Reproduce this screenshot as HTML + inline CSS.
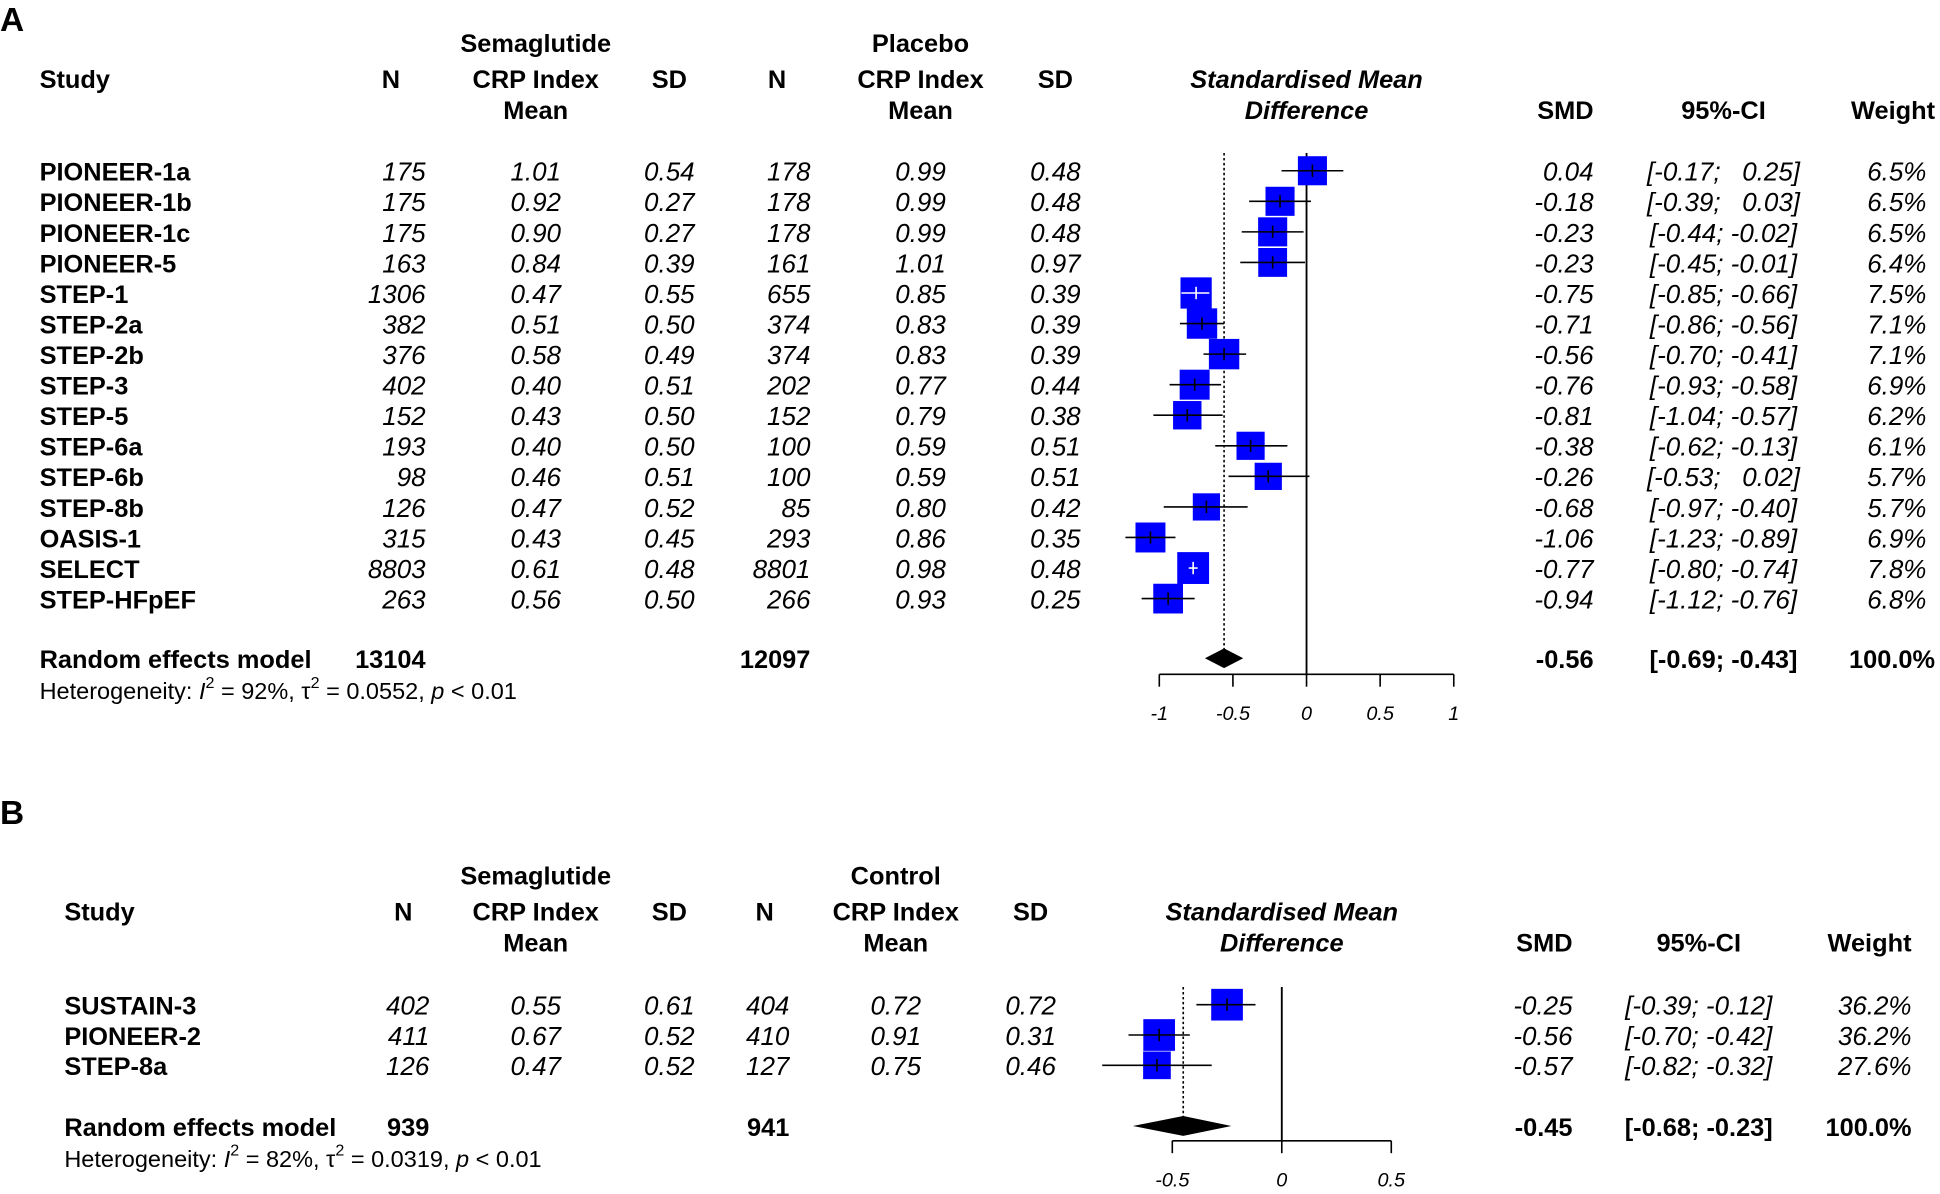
<!DOCTYPE html>
<html><head><meta charset="utf-8"><style>
html,body{margin:0;padding:0;background:#fff}
svg{display:block}
text{font-family:"Liberation Sans",Arial,sans-serif;fill:#000;white-space:pre}
.b{font-weight:bold;font-size:20.5px}
.i{font-style:italic;font-size:21px}
.h{font-size:19px}
</style></head><body>
<svg id="fig" width="1940" height="1194" viewBox="0 0 1568 965" preserveAspectRatio="none" xmlns="http://www.w3.org/2000/svg">
<g id="A"></g>
<g id="B"></g>
</svg>
<script>
// Panel A data
const studiesA = ["PIONEER-1a","PIONEER-1b","PIONEER-1c","PIONEER-5","STEP-1","STEP-2a","STEP-2b","STEP-3","STEP-5","STEP-6a","STEP-6b","STEP-8b","OASIS-1","SELECT","STEP-HFpEF"];
const nSemA = ["175","175","175","163","1306","382","376","402","152","193","98","126","315","8803","263"];
const meanSemA = ["1.01","0.92","0.90","0.84","0.47","0.51","0.58","0.40","0.43","0.40","0.46","0.47","0.43","0.61","0.56"];
const sdSemA = ["0.54","0.27","0.27","0.39","0.55","0.50","0.49","0.51","0.50","0.50","0.51","0.52","0.45","0.48","0.50"];
const nPlaA = ["178","178","178","161","655","374","374","202","152","100","100","85","293","8801","266"];
const meanPlaA = ["0.99","0.99","0.99","1.01","0.85","0.83","0.83","0.77","0.79","0.59","0.59","0.80","0.86","0.98","0.93"];
const sdPlaA = ["0.48","0.48","0.48","0.97","0.39","0.39","0.39","0.44","0.38","0.51","0.51","0.42","0.35","0.48","0.25"];
const smdA = [0.04,-0.18,-0.23,-0.23,-0.75,-0.71,-0.56,-0.76,-0.81,-0.38,-0.26,-0.68,-1.06,-0.77,-0.94];
const loA = [-0.17,-0.39,-0.44,-0.45,-0.85,-0.86,-0.70,-0.93,-1.04,-0.62,-0.53,-0.97,-1.23,-0.80,-1.12];
const hiA = [0.25,0.03,-0.02,-0.01,-0.66,-0.56,-0.41,-0.58,-0.57,-0.13,0.02,-0.40,-0.89,-0.74,-0.76];
const weightA = [6.5,6.5,6.5,6.4,7.5,7.1,7.1,6.9,6.2,6.1,5.7,5.7,6.9,7.8,6.8];
const modelA = {smd:-0.56, lo:-0.69, hi:-0.43, n1:"13104", n2:"12097", i2:"92%", tau:"0.0552"};
const ticksA = [-1,-0.5,0,0.5,1];
const tickLabelsA = ["-1","-0.5","0","0.5","1"];

// Panel B data
const studiesB = ["SUSTAIN-3","PIONEER-2","STEP-8a"];
const nSemB = ["402","411","126"];
const meanSemB = ["0.55","0.67","0.47"];
const sdSemB = ["0.61","0.52","0.52"];
const nPlaB = ["404","410","127"];
const meanPlaB = ["0.72","0.91","0.75"];
const sdPlaB = ["0.72","0.31","0.46"];
const smdB = [-0.25,-0.56,-0.57];
const loB = [-0.39,-0.70,-0.82];
const hiB = [-0.12,-0.42,-0.32];
const weightB = [36.2,36.2,27.6];
const modelB = {smd:-0.45, lo:-0.68, hi:-0.23, n1:"939", n2:"941", i2:"82%", tau:"0.0319"};
const ticksB = [-0.5,0,0.5];
const tickLabelsB = ["-0.5","0","0.5"];

const NS="http://www.w3.org/2000/svg";
function mk(parent,tag,attrs,txt){const e=document.createElementNS(NS,tag);for(const k in attrs)e.setAttribute(k,attrs[k]);if(txt!==undefined)e.textContent=txt;parent.appendChild(e);return e;}
function f2(v){return (v<0?"-":"")+Math.abs(v).toFixed(2);}
function ci(l,h){const a=f2(l), b=f2(h);return "["+(l<0?"":" ")+a+"; "+(h<0?"":"  ")+b+"]";}

function panel(g,cfg){
  const L=cfg.L;
  let t;
  t=mk(g,"text",{x:0,y:cfg.labelY,"font-size":27,"font-weight":"bold"},cfg.label);
  
  
  const hy=cfg.headY;
  const heads=[
    [L.study,hy+29,"start","Study"],[L.nh1,hy+29,"middle","N"],[L.m1,hy,"middle",cfg.grp1],[L.m1,hy+29,"middle","CRP Index"],[L.m1,hy+54,"middle","Mean"],
    [L.sd1,hy+29,"middle","SD"],[L.nh2,hy+29,"middle","N"],[L.m2,hy,"middle",cfg.grp2],[L.m2,hy+29,"middle","CRP Index"],[L.m2,hy+54,"middle","Mean"],
    [L.sd2,hy+29,"middle","SD"],[L.smd,hy+54,"end","SMD"],[L.ci,hy+54,"middle","95%-CI"],[L.wh,hy+54,"end","Weight"]];
  heads.forEach(h=>{t=mk(g,"text",{x:h[0],y:h[1],"text-anchor":h[2],class:"b"},h[3]);
    
    });
  t=mk(g,"text",{x:cfg.x0,y:hy+29,"text-anchor":"middle",class:"b","font-style":"italic"},"Standardised Mean");
  
  
  t=mk(g,"text",{x:cfg.x0,y:hy+54,"text-anchor":"middle",class:"b","font-style":"italic"},"Difference");
  
  

  const X=v=>cfg.x0+v*cfg.scale;
  const d=cfg.data;
  const yAt=i=>cfg.row0+i*cfg.dy;
  const top=yAt(0)-cfg.dy/2-2;
  let ln=mk(g,"line",{x1:X(d.model.smd),x2:X(d.model.smd),y1:top,y2:cfg.modelY-7,stroke:"#000","stroke-width":1.3,"stroke-dasharray":"2,2"});
  
  
  ln=mk(g,"line",{x1:X(0),x2:X(0),y1:top,y2:cfg.axisY,stroke:"#000","stroke-width":1.5});
  
  

  d.studies.forEach((s,i)=>{
    const y=yAt(i), ty=y+8;
    const cols=[[L.study,"start",s,"b"],[L.n1,"end",d.n1[i],"i"],[L.m1,"middle",d.m1[i],"i"],[L.sd1,"middle",d.sd1[i],"i"],
      [L.n2,"end",d.n2[i],"i"],[L.m2,"middle",d.m2[i],"i"],[L.sd2,"middle",d.sd2[i],"i"],
      [L.smd,"end",f2(d.smd[i]),"i"],[L.ci,"middle",ci(d.lo[i],d.hi[i]),"i"],[L.w,"end",d.w[i].toFixed(1)+"%","i"]];
    cols.forEach(c=>{const e=mk(g,"text",{x:c[0],y:ty,"text-anchor":c[1],class:c[3]},c[2]);
      
      });
    const sz=cfg.sq*Math.sqrt(d.w[i]/cfg.wref);
    const r=mk(g,"rect",{x:X(d.smd[i])-sz/2,y:y-sz/2,width:sz,height:sz,fill:"#0000ff"});
    
    
    const inside=X(d.lo[i])>X(d.smd[i])-sz/2 && X(d.hi[i])<X(d.smd[i])+sz/2;
    const col=inside?"#fff":"#000";
    const l=mk(g,"line",{x1:X(d.lo[i]),x2:X(d.hi[i]),y1:y,y2:y,stroke:col,"stroke-width":1.3});
    
    
    const m=mk(g,"line",{x1:X(d.smd[i]),x2:X(d.smd[i]),y1:y-5,y2:y+5,stroke:col,"stroke-width":1.3});
    
    
  });
  const my=cfg.modelY, mty=my+8;
  const mc=[[L.study,"start","Random effects model"],[L.n1,"end",d.model.n1],[L.n2,"end",d.model.n2],
    [L.smd,"end",f2(d.model.smd)],[L.ci,"middle",ci(d.model.lo,d.model.hi)],[L.wh,"end","100.0%"]];
  mc.forEach(c=>{const e=mk(g,"text",{x:c[0],y:mty,"text-anchor":c[1],class:"b"},c[2]);
    
    });
  const dm=mk(g,"polygon",{points:`${X(d.model.lo)},${my} ${X(d.model.smd)},${my-8} ${X(d.model.hi)},${my} ${X(d.model.smd)},${my+8}`,fill:"#000"});
  
  
  const het=mk(g,"text",{x:L.study,y:mty+25,class:"h"});
  
  
  mk(het,"tspan",{},"Heterogeneity: ");mk(het,"tspan",{"font-style":"italic"},"I");
  mk(het,"tspan",{dy:-9,"font-size":13},"2");mk(het,"tspan",{dy:9},` = ${d.model.i2}, τ`);
  mk(het,"tspan",{dy:-9,"font-size":13},"2");mk(het,"tspan",{dy:9},` = ${d.model.tau}, `);
  mk(het,"tspan",{"font-style":"italic"},"p");mk(het,"tspan",{}," < 0.01");
  const tk=cfg.ticks;
  const ax=mk(g,"line",{x1:X(tk[0]),x2:X(tk[tk.length-1]),y1:cfg.axisY,y2:cfg.axisY,stroke:"#000","stroke-width":1.3});
  
  
  tk.forEach((v,i)=>{
    const tl=mk(g,"line",{x1:X(v),x2:X(v),y1:cfg.axisY,y2:cfg.axisY+10,stroke:"#000","stroke-width":1.3});
    
    
    const tt=mk(g,"text",{x:X(v),y:cfg.axisY+37,"text-anchor":"middle","font-size":16,"font-style":"italic"},cfg.tickLabels[i]);
    
    
  });
}

panel(document.getElementById("A"),{
  label:"A",labelY:25,headY:42,grp1:"Semaglutide",grp2:"Placebo",
  L:{study:32,n1:344,nh1:316,m1:433,sd1:541,n2:655,nh2:628,m2:744,sd2:853,smd:1288,ci:1393,w:1557,wh:1564},
  x0:1056,scale:119,row0:138,dy:24.7,modelY:532,axisY:545,sq:23.5,wref:6.5,
  ticks:ticksA,tickLabels:tickLabelsA,
  data:{studies:studiesA,n1:nSemA,m1:meanSemA,sd1:sdSemA,n2:nPlaA,m2:meanPlaA,sd2:sdPlaA,smd:smdA,lo:loA,hi:hiA,w:weightA,model:modelA}
});
panel(document.getElementById("B"),{
  label:"B",labelY:666,headY:715,grp1:"Semaglutide",grp2:"Control",
  L:{study:52,n1:347,nh1:326,m1:433,sd1:541,n2:638,nh2:618,m2:724,sd2:833,smd:1271,ci:1373,w:1545,wh:1545},
  x0:1036,scale:177,row0:812,dy:24.5,modelY:910,axisY:922,sq:25.6,wref:36.2,
  ticks:ticksB,tickLabels:tickLabelsB,
  data:{studies:studiesB,n1:nSemB,m1:meanSemB,sd1:sdSemB,n2:nPlaB,m2:meanPlaB,sd2:sdPlaB,smd:smdB,lo:loB,hi:hiB,w:weightB,model:modelB}
});
</script>
</body></html>
